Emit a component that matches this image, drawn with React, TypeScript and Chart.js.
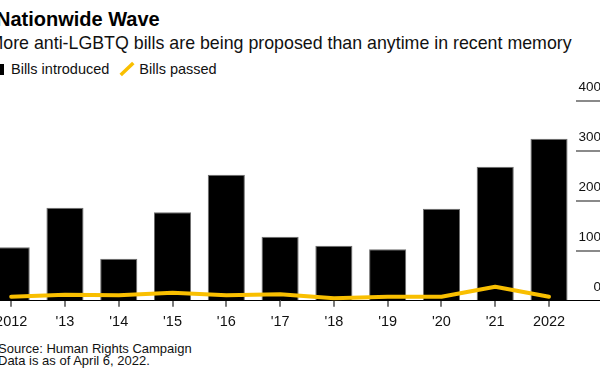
import React, { useEffect, useRef } from "react";
import { Chart, registerables } from "chart.js";

Chart.register(...registerables);

const years = ["2012", "'13", "'14", "'15", "'16", "'17", "'18", "'19", "'20", "'21", "2022"];
const billsIntroduced = [107, 186, 84, 177, 252, 128, 110, 103, 184, 268, 324];
const billsPassed = [8, 12, 11, 16, 11, 13, 5, 8, 8, 28, 8];
const yTicks = [0, 100, 200, 300, 400];

const FONT = "'Liberation Sans', Arial, Helvetica, sans-serif";
const YELLOW = "#f9bf00";

export default function App() {
  const ref = useRef<HTMLCanvasElement>(null);

  useEffect(() => {
    const chart = new Chart(ref.current as HTMLCanvasElement, {
      type: "bar",
      data: {
        labels: years,
        datasets: [
          {
            type: "line",
            label: "Bills passed",
            data: billsPassed,
            borderColor: YELLOW,
            backgroundColor: YELLOW,
            borderWidth: 4,
            pointRadius: 0,
            tension: 0,
            fill: false,
            order: 0,
            borderJoinStyle: "round",
            borderCapStyle: "round",
          } as any,
          {
            type: "bar",
            label: "Bills introduced",
            data: billsIntroduced,
            backgroundColor: "#000",
            borderColor: "#6e6e6e",
            borderWidth: 1,
            barPercentage: 0.69,
            categoryPercentage: 1,
            order: 1,
          } as any,
        ],
      },
      options: {
        animation: false,
        responsive: false,
        maintainAspectRatio: false,
        layout: { padding: { left: 24.3, top: 20.7, right: 39, bottom: 0 } },
        plugins: {
          legend: { display: false },
          tooltip: { enabled: false },
          title: { display: false },
        },
        scales: {
          x: {
            grid: {
              offset: false,
              drawOnChartArea: false,
              drawTicks: true,
              tickLength: 6,
              color: "#7a7a7a",
              lineWidth: 2,
            },
            border: { display: true, color: "#000", width: 1 },
            ticks: {
              color: "#111",
              font: { family: FONT, size: 14.5 },
              padding: 6.3,
              maxRotation: 0,
              autoSkip: false,
            },
            afterFit: (s: any) => {
              s.height = 39.3;
            },
          },
          y: {
            position: "right",
            min: 0,
            max: 400,
            afterBuildTicks: (s: any) => {
              s.ticks = yTicks.map((v) => ({ value: v }));
            },
            grid: {
              drawOnChartArea: false,
              drawTicks: true,
              tickLength: 34,
              color: (c: any) => (c.tick && c.tick.value === 0 ? "#000" : "#8a8a8a"),
              lineWidth: (c: any) => (c.tick && c.tick.value === 0 ? 1 : 2),
            },
            border: { display: false },
            ticks: {
              color: "#111",
              font: { family: FONT, size: 13.5 },
              crossAlign: "far",
              padding: 0,
              labelOffset: -13,
            },
            afterFit: (s: any) => {
              s.width = 25.1;
            },
          },
        },
      } as any,
    });
    return () => chart.destroy();
  }, []);

  return (
    <div
      style={{
        position: "absolute",
        left: 0,
        top: 0,
        width: 600,
        height: 377,
        overflow: "hidden",
        background: "#fff",
        fontFamily: FONT,
        color: "#000",
      }}
    >
      <div
        style={{
          position: "absolute",
          left: -4,
          top: 9,
          fontSize: 20,
          lineHeight: "20px",
          fontWeight: "bold",
          whiteSpace: "nowrap",
        }}
      >
        Nationwide Wave
      </div>
      <div
        style={{
          position: "absolute",
          left: -11.5,
          top: 34.9,
          fontSize: 17.8,
          lineHeight: "17.8px",
          whiteSpace: "nowrap",
          color: "#111",
        }}
      >
        More anti-LGBTQ bills are being proposed than anytime in recent memory
      </div>
      <div style={{ position: "absolute", left: -7, top: 64, width: 11, height: 11, background: "#000" }} />
      <div
        style={{
          position: "absolute",
          left: 11,
          top: 61.7,
          fontSize: 14.5,
          lineHeight: "14.5px",
          whiteSpace: "nowrap",
          color: "#111",
        }}
      >
        Bills introduced
      </div>
      <svg style={{ position: "absolute", left: 118, top: 60, width: 18, height: 18 }} width={18} height={18}>
        <line x1={2.7} y1={15} x2={15.3} y2={3} stroke={YELLOW} strokeWidth={3.5} />
      </svg>
      <div
        style={{
          position: "absolute",
          left: 139.3,
          top: 61.7,
          fontSize: 14.5,
          lineHeight: "14.5px",
          whiteSpace: "nowrap",
          color: "#111",
        }}
      >
        Bills passed
      </div>
      <canvas
        ref={ref}
        width={680}
        height={260}
        style={{ position: "absolute", left: -40, top: 80, width: 680, height: 260 }}
      />
      <div
        style={{
          position: "absolute",
          left: -2,
          top: 342.6,
          fontSize: 13,
          lineHeight: "12.4px",
          whiteSpace: "nowrap",
          color: "#111",
        }}
      >
        <div>Source: Human Rights Campaign</div>
        <div>Data is as of April 6, 2022.</div>
      </div>
    </div>
  );
}
